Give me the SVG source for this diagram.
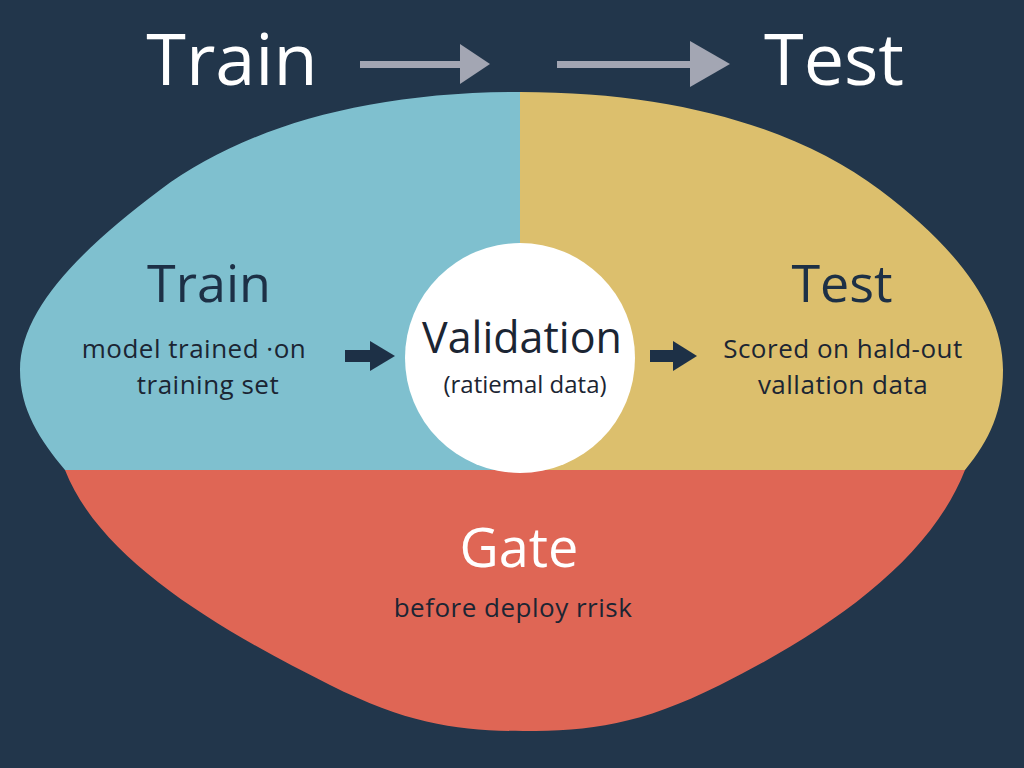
<svg xmlns="http://www.w3.org/2000/svg" width="1024" height="768" viewBox="0 0 1024 768">
<style>
text{font-family:"Open Sans","Noto Sans","Liberation Sans",sans-serif;text-anchor:middle}
.top{fill:#ffffff;font-size:72px}
.head{fill:#1d3046;font-size:52px}
.body{fill:#1b2533;font-size:26px;letter-spacing:0.5px}
.ttl{fill:#1b2533;font-size:43px}
</style>
<defs>
<clipPath id="blob"><path d="M520,92 C680,92 800,130 880,190 C960,250 1003,310 1003,370 C1003,410 990,440 965,470 C930,560 830,630 720,685 C640,725 590,731 523,731 C460,731 410,725 330,685 C220,630 100,560 65,470 C40,440 20,410 20,370 C20,310 80,250 160,190 C240,130 360,92 520,92 Z"/></clipPath>
</defs>
<rect width="1024" height="768" fill="#22364b"/>
<g clip-path="url(#blob)">
<g id="train-region"><rect x="0" y="80" width="520" height="390" fill="#7fc0cf"/></g>
<g id="test-region"><rect x="520" y="80" width="504" height="390" fill="#dcbf6d"/></g>
<g id="gate-region"><rect x="0" y="470" width="1024" height="298" fill="#df6655"/></g>
</g>
<g id="title">
<text class="top" x="232" y="85">Train</text>
<text class="top" x="834" y="85">Test</text>
</g>
<g id="validation"><circle cx="520" cy="358" r="115" fill="#ffffff"/>
<text class="ttl" x="522" y="353">Validation</text>
<text class="body" x="525" y="393" style="font-size:24px;letter-spacing:0">(ratiemal data)</text>
</g>
<g id="train">
<text class="head" x="209" y="302">Train</text>
<text class="body" x="194" y="358">model trained ·on</text>
<text class="body" x="208" y="394">training set</text>
</g>
<g id="test">
<text class="head" x="842" y="302">Test</text>
<text class="body" x="843" y="358">Scored on hald-out</text>
<text class="body" x="843" y="394">vallation data</text>
</g>
<g id="gate">
<text x="519" y="567" style="fill:#ffffff;font-size:54px">Gate</text>
<text class="body" x="513" y="617">before deploy rrisk</text>
</g>
<g id="connectors">
<g fill="#a3a6b3">
<rect x="360" y="61" width="104" height="7"/><polygon points="460,44 490,64 460,84"/>
<rect x="557" y="61" width="140" height="7"/><polygon points="690,41 730,64 690,87"/>
</g>
<g fill="#1d3046">
<rect x="345" y="350" width="28" height="12"/><polygon points="370,341 395,356 370,371"/>
<rect x="650" y="350" width="26" height="12"/><polygon points="673,341 697,356 673,371"/>
</g>
</g>
</svg>
